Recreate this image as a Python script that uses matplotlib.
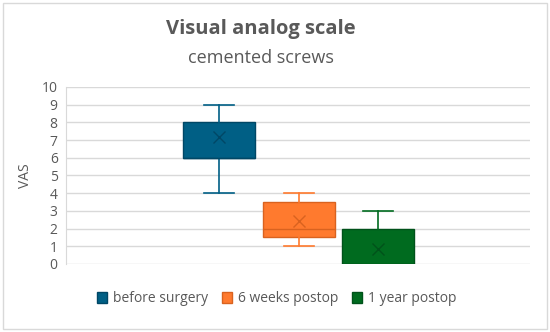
import matplotlib
matplotlib.use("Agg")
import matplotlib.pyplot as plt
from matplotlib.patches import Patch, Rectangle

# box plot statistics
groups = ["before surgery", "6 weeks postop", "1 year postop"]
whislo = [4, 1, 0]
q1 = [6, 1.5, 0]
med = [6, 2, 0]
q3 = [8, 3.5, 2]
whishi = [9, 4, 3]
means = [7.2, 2.45, 0.85]

colors = ["#005F85", "#FF7A2E", "#006B1F"]
darks = ["#004766", "#D9621F", "#00521A"]
positions = [0.33, 0.502, 0.673]
TXT = "#595959"

plt.rcParams["font.family"] = ["Open Sans", "DejaVu Sans"]

fig = plt.figure(figsize=(5.5, 3.32), dpi=100)
fig.patches.append(Rectangle((0.006, 0.01), 0.988, 0.98, transform=fig.transFigure,
                             fill=False, edgecolor="#D9D9D9", lw=1))
ax = fig.add_axes([0.12, 0.205, 0.8436, 0.533])

stats = [{"whislo": whislo[i], "q1": q1[i], "med": med[i], "q3": q3[i],
          "whishi": whishi[i], "mean": means[i]} for i in range(len(groups))]
bp = ax.bxp(stats, positions=positions, widths=0.155, patch_artist=True,
            showmeans=True, showfliers=False, manage_ticks=False)
for i in range(len(groups)):
    bp["boxes"][i].set(facecolor=colors[i], edgecolor=darks[i], lw=1)
    bp["medians"][i].set(color=darks[i], lw=1)
    bp["means"][i].set(marker="x", markeredgecolor=darks[i], markersize=8, mew=1)
    for w in bp["whiskers"][2 * i:2 * i + 2]:
        w.set(color=colors[i], lw=1.2)
    for c in bp["caps"][2 * i:2 * i + 2]:
        c.set(color=colors[i], lw=1.2, xdata=[positions[i] - 0.032, positions[i] + 0.032])

ax.set_xlim(0, 1)
ax.set_ylim(0, 10)
ax.set_yticks(range(0, 11))
ax.set_xticks([])
ax.yaxis.grid(True, color="#D9D9D9", lw=1)
ax.set_axisbelow(True)
for s in ["top", "right", "bottom"]:
    ax.spines[s].set_visible(False)
ax.spines["left"].set_color("#D9D9D9")
ax.tick_params(axis="y", length=0, labelsize=10, labelcolor=TXT, pad=6)
ax.set_ylabel("VAS", color=TXT, fontsize=10, labelpad=6)

fig.text(0.475, 0.912, "Visual analog scale", ha="center", va="center",
         fontsize=14.5, fontweight="bold", color=TXT)
fig.text(0.475, 0.825, "cemented screws", ha="center", va="center",
         fontsize=13, color=TXT)

handles = [Patch(facecolor=colors[i], edgecolor=darks[i], label=groups[i]) for i in range(len(groups))]
fig.legend(handles=handles, loc="center", bbox_to_anchor=(0.503, 0.1), ncol=3,
           frameon=False, fontsize=10, labelcolor=TXT, handlelength=0.75,
           handleheight=0.75, handletextpad=0.4, columnspacing=1.0)

fig.savefig("out.png", dpi=100)
